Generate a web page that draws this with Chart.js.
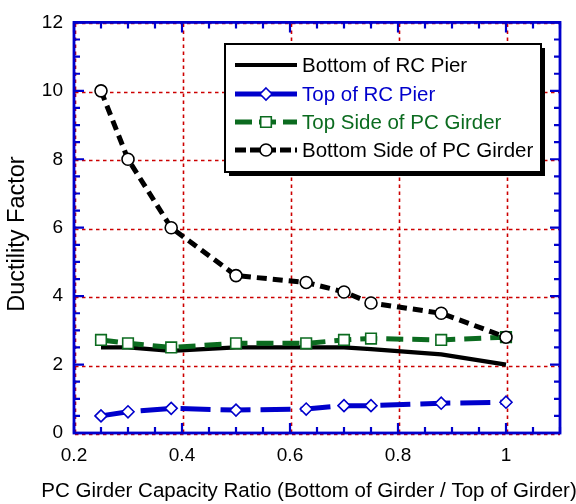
<!DOCTYPE html>
<html>
<head>
<meta charset="utf-8">
<script src="https://cdn.jsdelivr.net/npm/chart.js@4/dist/chart.umd.min.js"></script>
<style>
  html, body { margin: 0; padding: 0; background: #ffffff; }
  #wrap { width: 576px; height: 504px; position: relative; }
</style>
</head>
<body>
<div id="wrap"><canvas id="chart" width="576" height="504"></canvas></div>
<script>
// Girder capacity ratios (x) and ductility factors for each location
const capacityRatio = [0.25, 0.30, 0.38, 0.50, 0.63, 0.70, 0.75, 0.88, 1.00];
const bottomRCPier = [2.5, 2.5, 2.4, 2.5, 2.5, 2.5, 2.45, 2.3, 2.0];
const topRCPier = [0.5, 0.62, 0.72, 0.67, 0.7, 0.8, 0.8, 0.87, 0.9];
const topSidePCGirder = [2.72, 2.62, 2.5, 2.62, 2.62, 2.72, 2.76, 2.72, 2.8];
const bottomSidePCGirder = [10, 8, 6, 4.6, 4.4, 4.12, 3.8, 3.5, 2.8];
const seriesNames = ['Bottom of RC Pier', 'Top of RC Pier', 'Top Side of PC Girder', 'Bottom Side of PC Girder'];
const xTickValues = [0.2, 0.4, 0.6, 0.8, 1.0];
const yTickValues = [0, 2, 4, 6, 8, 10, 12];

const FONT = '"Liberation Sans", Arial, sans-serif';
const BLUE = '#0000cc';
const GREEN = '#0b6b1f';
const RED = '#cc0000';

const pts = ys => capacityRatio.map((x, i) => ({ x: x, y: ys[i] }));

// Frame, red dotted grid and inward ticks on all four sides
const framePlugin = {
  id: 'frame',
  beforeDatasetsDraw(chart) {
    const { ctx, chartArea: a, scales: { x, y } } = chart;
    ctx.save();
    ctx.strokeStyle = RED;
    ctx.lineWidth = 1.6;
    ctx.setLineDash([3.5, 3.5]);
    xTickValues.forEach(v => {
      const px = Math.round(x.getPixelForValue(v)) + 0.5;
      ctx.beginPath(); ctx.moveTo(px + 1, a.top + 1); ctx.lineTo(px + 1, a.bottom); ctx.stroke();
    });
    yTickValues.forEach(v => {
      const py = Math.round(y.getPixelForValue(v)) + 0.5;
      ctx.beginPath(); ctx.moveTo(a.left + 1, py + 1); ctx.lineTo(a.right, py + 1); ctx.stroke();
    });
    ctx.setLineDash([]);
    ctx.restore();
  },
  afterDatasetsDraw(chart) {
    const { ctx, chartArea: a, scales: { x, y } } = chart;
    ctx.save();
    ctx.strokeStyle = BLUE;
    ctx.lineWidth = 2.2;
    for (let k = 0; k <= 18; k++) {
      const px = x.getPixelForValue(0.2 + k * 0.05);
      const len = (k % 4 === 0) ? 10 : 6;
      ctx.beginPath();
      ctx.moveTo(px, a.bottom); ctx.lineTo(px, a.bottom - len);
      ctx.moveTo(px, a.top); ctx.lineTo(px, a.top + len);
      ctx.stroke();
    }
    for (let k = 0; k <= 24; k++) {
      const py = y.getPixelForValue(k * 0.5);
      const len = (k % 4 === 0) ? 10 : 6;
      ctx.beginPath();
      ctx.moveTo(a.left, py); ctx.lineTo(a.left + len, py);
      ctx.moveTo(a.right, py); ctx.lineTo(a.right - len, py);
      ctx.stroke();
    }
    ctx.lineWidth = 2.8;
    ctx.strokeRect(a.left, a.top, a.right - a.left, a.bottom - a.top);
    ctx.restore();
  }
};

function drawMarkerPath(ctx, style, x, y, r) {
  if (style === 'circle') {
    ctx.arc(x, y, r, 0, Math.PI * 2);
  } else if (style === 'rect') {
    const s = r * Math.SQRT1_2;
    ctx.rect(x - s, y - s, 2 * s, 2 * s);
  } else if (style === 'rectRot') {
    ctx.moveTo(x, y - r); ctx.lineTo(x + r, y); ctx.lineTo(x, y + r); ctx.lineTo(x - r, y); ctx.closePath();
  }
}

// Boxed legend with drop shadow, plus the axis titles
const legendPlugin = {
  id: 'boxLegend',
  afterDraw(chart) {
    const { ctx } = chart;
    const bx = 225, by = 44, bw = 316, bh = 128;
    ctx.save();
    ctx.fillStyle = '#000';
    ctx.fillRect(bx + 4, by + 4, bw, bh);
    ctx.fillStyle = '#fff';
    ctx.fillRect(bx, by, bw, bh);
    ctx.lineWidth = 2;
    ctx.strokeStyle = '#000';
    ctx.strokeRect(bx, by, bw, bh);

    const rows = [65, 94, 122, 150];
    const textColors = ['#000', BLUE, GREEN, '#000'];
    chart.data.datasets.forEach((ds, r) => {
      const yy = rows[r];
      const x0 = 235, x1 = 297, xm = (x0 + x1) / 2;
      ctx.save();
      ctx.strokeStyle = ds.borderColor;
      ctx.lineWidth = ds.borderWidth;
      ctx.setLineDash(ds.legendDash || []);
      ctx.beginPath(); ctx.moveTo(x0, yy); ctx.lineTo(x1, yy); ctx.stroke();
      ctx.setLineDash([]);
      if (ds.pointRadius > 0) {
        ctx.fillStyle = '#fff';
        ctx.strokeStyle = ds.pointBorderColor;
        ctx.lineWidth = ds.pointBorderWidth;
        ctx.beginPath();
        drawMarkerPath(ctx, ds.pointStyle, xm, yy, ds.pointRadius);
        ctx.fill(); ctx.stroke();
      }
      ctx.restore();
      ctx.fillStyle = textColors[r];
      ctx.font = '20.5px ' + FONT;
      ctx.textBaseline = 'middle';
      ctx.textAlign = 'left';
      ctx.fillText(seriesNames[r], 302, yy + 1);
    });

    ctx.fillStyle = '#000';
    ctx.font = '20.5px ' + FONT;
    ctx.textAlign = 'center';
    ctx.textBaseline = 'middle';
    ctx.fillText('PC Girder Capacity Ratio (Bottom of Girder / Top of Girder)', 309, 491);
    ctx.save();
    ctx.translate(18, 234);
    ctx.rotate(-Math.PI / 2);
    ctx.font = '23.5px ' + FONT;
    ctx.fillText('Ductility Factor', 0, 0);
    ctx.restore();
    ctx.restore();
  }
};

const chart = new Chart(document.getElementById('chart'), {
  type: 'line',
  data: {
    datasets: [
      {
        label: seriesNames[0], data: pts(bottomRCPier),
        borderColor: '#000', borderWidth: 4.2, borderDash: [], legendDash: [],
        pointRadius: 0, order: 4, tension: 0
      },
      {
        label: seriesNames[1], data: pts(topRCPier),
        borderColor: BLUE, borderWidth: 5, borderDash: [30, 10], legendDash: [],
        pointStyle: 'rectRot', pointRadius: 6, pointBorderWidth: 1.6,
        pointBorderColor: BLUE, pointBackgroundColor: '#fff', order: 3, tension: 0
      },
      {
        label: seriesNames[2], data: pts(topSidePCGirder),
        borderColor: GREEN, borderWidth: 5, borderDash: [17, 9], legendDash: [17, 7],
        pointStyle: 'rect', pointRadius: 7.5, pointBorderWidth: 1.6,
        pointBorderColor: GREEN, pointBackgroundColor: '#fff', order: 2, tension: 0
      },
      {
        label: seriesNames[3], data: pts(bottomSidePCGirder),
        borderColor: '#000', borderWidth: 5, borderDash: [10, 6], legendDash: [11, 4],
        pointStyle: 'circle', pointRadius: 6, pointBorderWidth: 1.6,
        pointBorderColor: '#000', pointBackgroundColor: '#fff', order: 1, tension: 0
      }
    ]
  },
  options: {
    responsive: false,
    animation: false,
    devicePixelRatio: 1,
    layout: { padding: { left: 0, top: 19, right: 16, bottom: 0 } },
    plugins: { legend: { display: false }, tooltip: { enabled: false } },
    scales: {
      x: {
        type: 'linear', min: 0.2, max: 1.1,
        afterFit(scale) { scale.height = 71; },
        afterBuildTicks(scale) { scale.ticks = xTickValues.map(v => ({ value: v })); },
        grid: { display: false, drawTicks: false },
        border: { display: false },
        ticks: {
          padding: 11, color: '#000',
          font: { family: FONT, size: 19 },
          callback: v => String(Math.round(v * 10) / 10)
        }
      },
      y: {
        type: 'linear', min: 0, max: 12,
        afterFit(scale) { scale.width = 74; },
        afterBuildTicks(scale) { scale.ticks = yTickValues.map(v => ({ value: v })); },
        grid: { display: false, drawTicks: false },
        border: { display: false },
        ticks: {
          padding: 11, color: '#000',
          font: { family: FONT, size: 19 }
        }
      }
    }
  },
  plugins: [framePlugin, legendPlugin]
});
</script>
</body>
</html>
